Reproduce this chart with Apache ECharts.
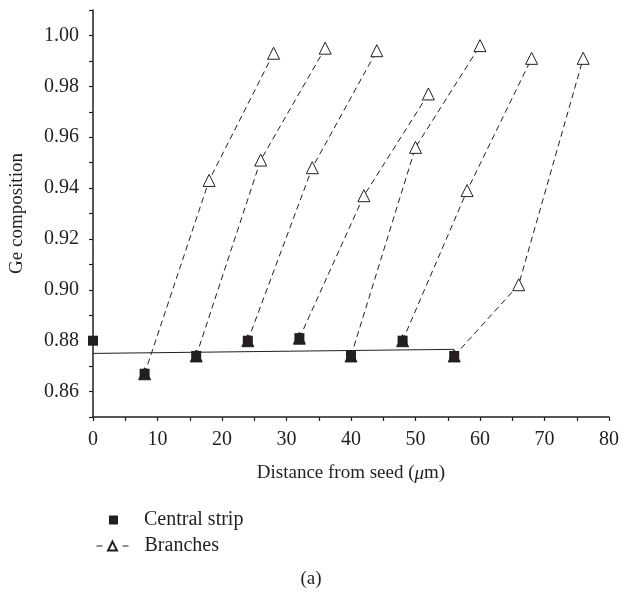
<!DOCTYPE html>
<html>
<head>
<meta charset="utf-8">
<script src="https://cdn.jsdelivr.net/npm/echarts@6/dist/echarts.min.js"></script>
<style>
  html, body { margin: 0; padding: 0; background: #fff; }
  #chart { width: 622px; height: 591px; }
</style>
</head>
<body>
<div id="chart"></div>
<script>
// central strip measurements
const centralX = [0, 8, 16, 24, 32, 40, 48, 56];
const centralY = [0.880, 0.867, 0.874, 0.880, 0.881, 0.874, 0.880, 0.874];

// linear fit through the central strip
const fitX = [0, 56];
const fitY = [0.875, 0.8766];

// branches, each starting from a central strip point
const branchX = [
  [8, 18, 28],
  [16, 26, 36],
  [24, 34, 44],
  [32, 42, 52],
  [40, 50, 60],
  [48, 58, 68],
  [56, 66, 76]
];
const branchY = [
  [0.867, 0.943, 0.993],
  [0.874, 0.951, 0.995],
  [0.880, 0.948, 0.994],
  [0.881, 0.937, 0.977],
  [0.874, 0.956, 0.996],
  [0.880, 0.939, 0.991],
  [0.874, 0.902, 0.991]
];

const xTickLabels = ["0", "10", "20", "30", "40", "50", "60", "70", "80"];
const yTickLabels = ["0.86", "0.88", "0.90", "0.92", "0.94", "0.96", "0.98", "1.00"];

const ink = "#231f20";
const font = "Liberation Serif";

const chart = echarts.init(document.getElementById("chart"), null, { renderer: "canvas" });

const branchSeries = branchX.map((xs, i) => ({
  name: "Branches",
  type: "line",
  z: 2,
  symbol: "triangle",
  symbolSize: 12,
  itemStyle: { color: "#fff", borderColor: ink, borderWidth: 1 },
  lineStyle: { color: ink, width: 1, type: [6, 4] },
  data: xs.map((x, j) => j === 0
    ? { value: [x, branchY[i][j]], itemStyle: { color: ink } }
    : [x, branchY[i][j]])
}));

chart.setOption({
  backgroundColor: "#fff",
  animation: false,
  textStyle: { fontFamily: font, color: ink },
  title: {
    text: "(a)",
    left: "center",
    top: 565,
    textStyle: { fontFamily: font, fontSize: 19, fontWeight: "normal", color: ink }
  },
  grid: { left: 92, right: 9, top: 10, bottom: 174 },
  legend: [
    {
      data: ["Central strip"],
      orient: "vertical",
      left: 104,
      top: 505,
      itemWidth: 9,
      itemHeight: 9,
      icon: "rect",
      itemStyle: { color: ink, opacity: 1 },
      textStyle: { fontFamily: font, fontSize: 20, color: ink, padding: [0, 0, 0, 21] }
    },
    {
      data: ["Branches"],
      orient: "vertical",
      left: 91,
      top: 531,
      itemWidth: 32,
      itemHeight: 11,
      lineStyle: { type: [6, 20], width: 1, color: ink },
      textStyle: { fontFamily: font, fontSize: 20, color: ink, padding: [0, 0, 0, 11] }
    }
  ],
  xAxis: {
    type: "value",
    min: 0,
    max: 80,
    interval: 5,
    name: "Distance from seed ({i|μ}m)",
    nameLocation: "middle",
    nameGap: 47,
    nameTextStyle: {
      fontFamily: font, fontSize: 19, color: ink,
      rich: { i: { fontFamily: font, fontSize: 19, fontStyle: "italic", color: ink } }
    },
    axisLine: { lineStyle: { color: ink, width: 1.5 } },
    axisTick: { length: 4, lineStyle: { color: ink, width: 1.2 } },
    axisLabel: {
      margin: 13,
      fontFamily: font,
      fontSize: 20,
      color: ink,
      formatter: (v) => xTickLabels.includes(String(Math.round(v))) ? String(Math.round(v)) : ""
    },
    splitLine: { show: false }
  },
  yAxis: {
    type: "value",
    min: 0.85,
    max: 1.01,
    interval: 0.01,
    name: "Ge composition",
    nameLocation: "middle",
    nameGap: 66,
    nameTextStyle: { fontFamily: font, fontSize: 19, color: ink },
    axisLine: { show: true, lineStyle: { color: ink, width: 1.5 } },
    axisTick: { show: true, length: 4, lineStyle: { color: ink, width: 1.2 } },
    axisLabel: {
      margin: 14,
      fontFamily: font,
      fontSize: 20,
      color: ink,
      formatter: (v) => {
        const s = v.toFixed(2);
        return yTickLabels.includes(s) ? s : "";
      }
    },
    splitLine: { show: false }
  },
  series: [
    {
      name: "Fit",
      type: "line",
      z: 1,
      symbol: "none",
      lineStyle: { color: ink, width: 1 },
      data: fitX.map((x, i) => [x, fitY[i]])
    },
    ...branchSeries,
    {
      name: "Central strip",
      type: "scatter",
      z: 3,
      symbol: "rect",
      symbolSize: 10,
      clip: false,
      itemStyle: { color: ink, opacity: 1 },
      data: centralX.map((x, i) => [x, centralY[i]])
    }
  ]
});
</script>
</body>
</html>
